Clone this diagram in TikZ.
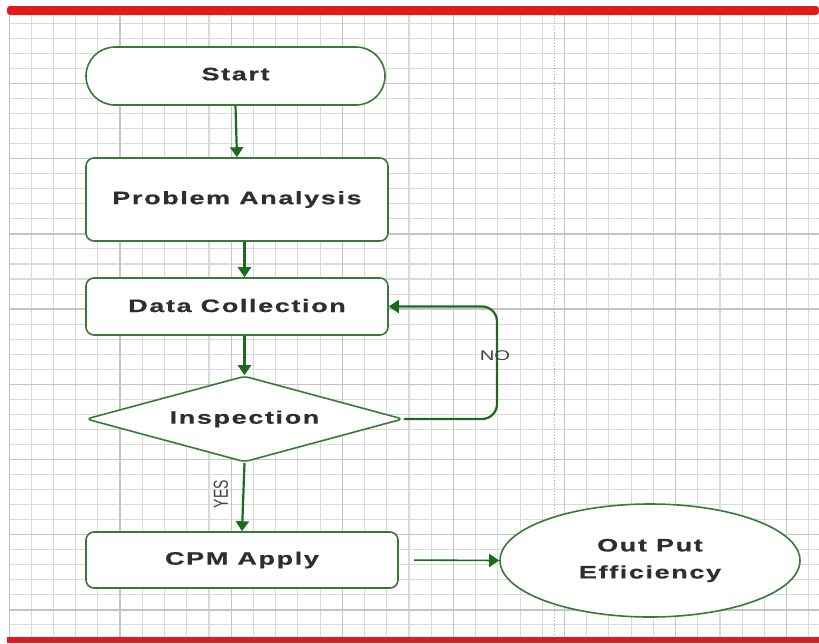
\documentclass[tikz,border=0pt]{standalone}
\usepackage{fontspec}
\setmainfont{Liberation Sans}
\newfontfamily\lblfont[FakeStretch=1.5,LetterSpace=9,BoldFeatures={FakeBold=0.6}]{Liberation Sans}
\newfontfamily\smallfont[FakeStretch=1.45]{Liberation Sans}
\usetikzlibrary{shapes.geometric,arrows.meta,calc}
\definecolor{gridminor}{HTML}{DADADA}
\definecolor{gridmajor}{HTML}{C4C4C4}
\definecolor{redbar}{HTML}{E31B1E}
\definecolor{shapegreen}{HTML}{367A36}
\definecolor{arrowgreen}{HTML}{1B6B1B}
\definecolor{txt}{HTML}{2E2E2E}
\definecolor{lbltxt}{HTML}{444444}
\begin{document}
\begin{tikzpicture}[x=1pt,y=-1pt,
  box/.style={draw=shapegreen, line width=1.6pt, fill=white, inner sep=0pt,
    font=\lblfont\bfseries\fontsize{18}{27}\selectfont, text=txt},
  arr/.style={draw=arrowgreen, line width=2.2pt, -{Triangle[length=10pt,width=13pt]}},
  edgelbl/.style={inner sep=0pt, text=lbltxt}
]
% background and bounds
\fill[white] (0,0) rectangle (819,643);
\useasboundingbox (0,0) rectangle (819,643);
% grid
\begin{scope}
\clip (9,15) rectangle (819,637);
\foreach \i in {0,...,36} \draw[gridminor, line width=1.1pt] ({9+22.22*\i},15) -- ({9+22.22*\i},637);
\foreach \j in {0,...,42} \draw[gridminor, line width=1.1pt] (9,{8.3+15.04*\j}) -- (819,{8.3+15.04*\j});
\foreach \i in {0,...,7} \draw[gridmajor, line width=1.3pt] ({9+111.1*\i},15) -- ({9+111.1*\i},637);
\foreach \j in {0,...,8} \draw[gridmajor, line width=1.3pt] (9,{8.3+75.2*\j}) -- (819,{8.3+75.2*\j});
\draw[gray!70, dotted, line width=0.8pt] (554,15) -- (554,637);
\end{scope}
% red bars
\fill[redbar, rounded corners=3pt] (7,15) -- (7,6) -- (819,6) -- (819,15) -- cycle;
\fill[redbar] (7,637) rectangle (819,643);
% nodes
\node[box, rounded corners=29pt, minimum width=299pt, minimum height=58pt] (start) at (235.5,76) {\raisebox{4pt}{Start}};
\node[box, rounded corners=8pt, minimum width=302pt, minimum height=83pt] (pa) at (237,199.5) {Problem Analysis};
\node[box, rounded corners=8pt, minimum width=302pt, minimum height=57pt] (dc) at (237,306.5) {\raisebox{2pt}{Data Collection}};
\node[box, diamond, aspect=3.7, rounded corners=5pt, minimum width=317pt, minimum height=86pt] (insp) at (244.5,419) {Inspection};
\node[box, rounded corners=8pt, minimum width=312pt, minimum height=56pt] (cpm) at (242,560) {\raisebox{1pt}{CPM Apply}};
\node[box, ellipse, minimum width=300pt, minimum height=113pt, align=center] (out) at (650,560.5) {Out Put\\Efficiency};
% connectors
\draw[arr] (start.south) -- (pa.north);
\draw[arr] (pa.south -| insp.north) -- (dc.north -| insp.north);
\draw[arr] (dc.south -| insp.north) -- (insp.north);
\draw[arr] (insp.south) -- (cpm.north);
\coordinate (loop) at (497,356);
\draw[arr, rounded corners=15pt] (insp.east) -| (loop) |- (dc.east);
\draw[arr, line width=1.6pt, shorten <=15pt] (cpm.east) -- (out.west);
% labels
\node[edgelbl, font=\smallfont\fontsize{14}{14}\selectfont] (no) at (495,356) {NO};
\node[edgelbl, font=\fontsize{14}{14}\selectfont] (yes) at (221,494) {\rotatebox{90}{\scalebox{1}[1.45]{YES}}};
\end{tikzpicture}
\end{document}
